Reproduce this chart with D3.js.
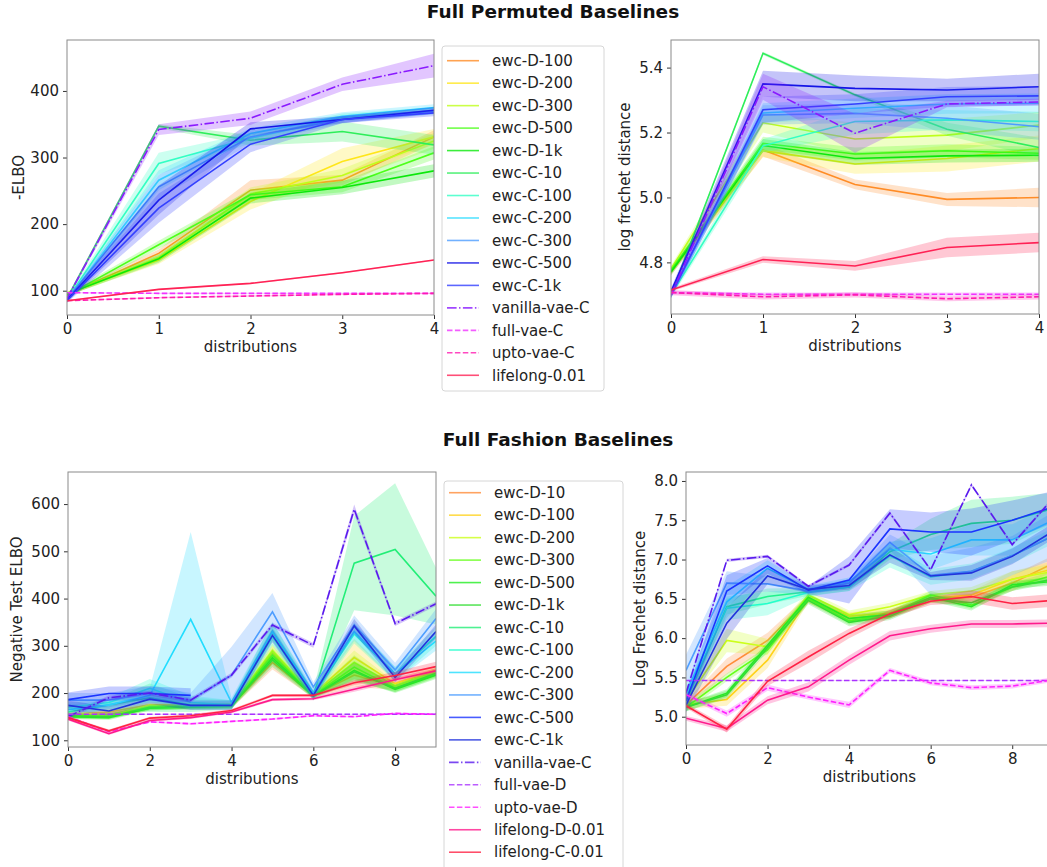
<!DOCTYPE html>
<html><head><meta charset="utf-8">
<script src="https://cdn.jsdelivr.net/npm/d3@7"></script>
<style>
html,body{margin:0;padding:0;background:#fff;}
svg{display:block;font-family:"DejaVu Sans",sans-serif;}
</style></head>
<body>
<svg id="chart" width="1047" height="867"></svg>
<script>
// ---------------- DATA ----------------
const permX = [0, 1, 2, 3, 4];
const permSeries = ["ewc-D-100","ewc-D-200","ewc-D-300","ewc-D-500","ewc-D-1k","ewc-C-10","ewc-C-100","ewc-C-200","ewc-C-300","ewc-C-500","ewc-C-1k","vanilla-vae-C","full-vae-C","upto-vae-C","lifelong-0.01"];
const permColors = ["#ff8c26","#ffe61a","#bfff1a","#4dff1a","#0be80b","#2eee5a","#33ffc4","#2edcff","#4d9dff","#1414e6","#3340ff","#8a1aff","#f033ff","#ff1ab0","#ff2255"];
const permStyles = ["solid","solid","solid","solid","solid","solid","solid","solid","solid","solid","solid","dashdot","dashed","dashed","solid"];

const permElbo = [
  [94,156,251,266,331],
  [96,146,234,294,331],
  [95,150,245,273,325],
  [93,169,244,256,307],
  [95,148,239,255,280],
  [88,347,326,339,319],
  [87,291,329,360,370],
  [86,266,336,362,375],
  [87,256,331,357,370],
  [86,236,343,357,371],
  [85,224,320,357,367],
  [88,342,359,410,438],
  [97,96,96,96,96],
  [85,89.5,92,94.5,96],
  [85,102,111,127,146]
];
const permElboSd = [
  [3,6,15,8,10],[3,6,12,20,12],[3,6,10,10,12],[3,6,8,8,10],[3,6,8,10,10],
  [3,3,8,15,15],[3,16,8,6,5],[3,15,8,6,5],[3,18,10,6,5],[3,22,10,5,5],[3,22,12,5,5],
  [3,8,10,10,18],[1,1,1,1,1],[1,1,1,1,1],[1,1,1,1,1]
];
const permFid = [
  [4.77,5.146,5.04,4.994,5.0],
  [4.775,5.144,5.103,5.12,5.151],
  [4.78,5.23,5.18,5.192,5.223],
  [4.775,5.167,5.134,5.144,5.136],
  [4.77,5.16,5.12,5.128,5.13],
  [4.70,5.444,5.316,5.21,5.154],
  [4.70,5.159,5.234,5.239,5.234],
  [4.70,5.26,5.275,5.288,5.29],
  [4.70,5.254,5.259,5.244,5.218],
  [4.71,5.35,5.336,5.331,5.341],
  [4.70,5.27,5.288,5.31,5.313],
  [4.70,5.341,5.198,5.288,5.294],
  [4.707,4.702,4.702,4.702,4.702],
  [4.707,4.694,4.70,4.688,4.694],
  [4.715,4.809,4.789,4.846,4.861]
];
const permFidSd = [
  [0.01,0.02,0.015,0.02,0.03],[0.01,0.02,0.03,0.04,0.04],[0.01,0.03,0.05,0.05,0.04],
  [0.01,0.02,0.02,0.02,0.02],[0.01,0.02,0.02,0.02,0.02],[0.005,0.005,0.005,0.02,0.03],
  [0.01,0.02,0.04,0.03,0.03],[0.01,0.03,0.03,0.03,0.03],[0.01,0.03,0.03,0.04,0.04],
  [0.01,0.04,0.04,0.035,0.04],[0.01,0.04,0.03,0.03,0.03],[0.01,0.04,0.06,0.01,0.01],
  [0.005,0.005,0.005,0.005,0.005],[0.008,0.008,0.008,0.008,0.008],[0.005,0.01,0.015,0.03,0.03]
];

const fashX = [0,1,2,3,4,5,6,7,8,9];
const fashSeries = ["ewc-D-10","ewc-D-100","ewc-D-200","ewc-D-300","ewc-D-500","ewc-D-1k","ewc-C-10","ewc-C-100","ewc-C-200","ewc-C-300","ewc-C-500","ewc-C-1k","vanilla-vae-C","full-vae-D","upto-vae-D","lifelong-D-0.01","lifelong-C-0.01"];
const fashColors = ["#ff8c3a","#ffd21a","#ccff1a","#66ff1a","#22ee22","#33dd33","#22ee77","#22ffcc","#22ddff","#4d9dff","#1a33ff","#2233dd","#5a1aee","#aa33ff","#ff22ff","#ff1a8c","#ff2244"];
const fashStyles = ["solid","solid","solid","solid","solid","solid","solid","solid","solid","solid","solid","solid","dashdot","dashed","dashed","solid","solid"];

const fashElbo = [
  [155,155,170,172,173,265,195,238,215,245],
  [155,160,175,175,175,285,198,275,220,248],
  [152,155,172,174,174,290,197,265,215,245],
  [150,150,168,172,174,280,195,255,210,240],
  [150,148,168,170,172,275,194,248,208,238],
  [152,150,170,171,173,270,193,245,210,242],
  [160,175,190,175,175,330,195,475,504,405],
  [170,180,210,180,175,320,195,325,240,320],
  [165,175,195,356,180,330,200,330,240,310],
  [185,185,200,185,238,372,213,344,249,358],
  [186,199,199,195,null,null,null,null,null,null],
  [174,162,187,174,174,322,195,342,233,330],
  [150,190,200,185,238,344,301,589,347,389],
  [155,155,155,155,155,155,155,155,155,155],
  [150,118,139,135,140,145,152,150,157,155],
  [145,114,142,148,160,186,188,208,228,247],
  [148,120,147,152,163,195,195,222,237,256]
];
const fashElboSd = [
  [5,5,5,5,5,15,5,25,8,8],[5,5,5,5,5,15,5,40,10,10],[5,5,5,5,5,15,5,25,8,8],
  [5,5,5,5,5,15,5,25,8,8],[5,5,5,5,5,15,5,20,8,8],[5,5,5,5,5,15,5,20,8,8],
  [10,10,30,15,10,20,10,100,140,60],[10,10,20,15,10,20,10,20,15,20],[10,10,15,185,10,20,10,20,15,20],
  [15,15,15,15,60,40,10,20,15,20],[15,15,15,15,null,null,null,null,null,null],[10,10,10,10,10,15,10,15,10,15],
  [5,5,5,5,5,5,5,10,5,5],[1,1,1,1,1,1,1,1,1,1],[2,2,2,2,2,2,2,2,2,2],
  [3,3,3,3,3,3,3,5,5,5],[3,3,3,3,3,3,3,5,8,10]
];
const fashFid = [
  [5.15,5.64,5.97,6.50,6.25,6.30,6.50,6.52,6.70,6.95],
  [5.15,5.22,5.72,6.50,6.28,6.32,6.50,6.55,6.75,6.88],
  [5.20,5.97,5.89,6.55,6.30,6.40,6.55,6.60,6.75,6.85],
  [5.12,5.50,5.85,6.50,6.22,6.30,6.55,6.42,6.65,6.80],
  [5.12,5.30,5.91,6.52,6.25,6.30,6.52,6.40,6.68,6.72],
  [5.12,5.28,5.88,6.48,6.20,6.28,6.50,6.45,6.65,6.75],
  [5.20,6.40,6.53,6.59,6.65,7.10,7.32,7.46,7.50,7.65],
  [5.25,6.38,6.44,6.58,6.65,7.05,6.78,6.85,7.05,7.30],
  [5.30,6.46,6.89,6.62,6.72,7.13,7.07,7.25,7.25,7.50],
  [5.59,6.70,6.69,6.60,6.70,7.22,6.80,6.85,7.05,7.30],
  [5.20,6.60,6.92,6.61,6.74,7.39,7.35,7.35,7.50,7.67],
  [5.15,6.19,6.79,6.62,6.67,7.06,6.79,6.83,7.04,7.36],
  [5.30,6.99,7.04,6.66,6.93,7.59,6.87,7.95,7.19,7.78],
  [5.46,5.46,5.46,5.46,5.46,5.46,5.46,5.46,5.46,5.46],
  [5.28,5.04,5.37,5.25,5.15,5.59,5.43,5.37,5.39,5.47],
  [4.98,4.85,5.21,5.38,5.72,6.03,6.12,6.18,6.18,6.19],
  [5.14,4.84,5.45,5.76,6.06,6.31,6.47,6.53,6.44,6.48]
];
const fashFidSd = [
  [0.05,0.1,0.1,0.05,0.05,0.05,0.05,0.05,0.1,0.1],[0.05,0.08,0.1,0.05,0.05,0.05,0.05,0.05,0.1,0.1],
  [0.05,0.15,0.1,0.05,0.05,0.05,0.05,0.05,0.1,0.1],[0.05,0.05,0.05,0.05,0.05,0.05,0.05,0.05,0.05,0.05],
  [0.05,0.05,0.05,0.05,0.05,0.05,0.05,0.05,0.05,0.05],[0.05,0.05,0.05,0.05,0.05,0.05,0.05,0.05,0.05,0.05],
  [0.1,0.1,0.1,0.05,0.05,0.1,0.2,0.3,0.3,0.2],[0.1,0.15,0.15,0.05,0.05,0.15,0.1,0.1,0.1,0.1],
  [0.1,0.2,0.1,0.05,0.05,0.1,0.2,0.2,0.2,0.2],[0.2,0.15,0.1,0.05,0.05,0.1,0.25,0.3,0.25,0.3],
  [0.1,0.2,0.1,0.05,0.3,0.25,0.25,0.3,0.25,0.2],[0.1,0.2,0.1,0.05,0.05,0.1,0.05,0.1,0.1,0.1],
  [0.02,0.02,0.02,0.02,0.02,0.02,0.02,0.02,0.02,0.02],[0.005,0.005,0.005,0.005,0.005,0.005,0.005,0.005,0.005,0.005],
  [0.03,0.04,0.04,0.03,0.04,0.03,0.03,0.03,0.03,0.03],[0.03,0.04,0.05,0.06,0.06,0.06,0.05,0.05,0.05,0.05],
  [0.03,0.04,0.06,0.08,0.06,0.05,0.05,0.08,0.08,0.08]
];

const permYTicks = [100,200,300,400];
const permFidTicks = [4.8,5.0,5.2,5.4];
const fashYTicks = [100,200,300,400,500,600];
const fashFidTicks = [5.0,5.5,6.0,6.5,7.0,7.5,8.0];
const permXTicks = [0,1,2,3,4];
const fashXTicks = [0,2,4,6,8];

// ---------------- DRAWING ----------------
const svg = d3.select("#chart");
const FONT = 15;
const dashFor = s => s === "dashed" ? "5.5,2.4" : (s === "dashdot" ? "9.6,2.4,1.5,2.4" : null);
let clipId = 0;

function panel(o) {
  const x = d3.scaleLinear().domain(o.xDomain).range([o.left, o.right]);
  const y = d3.scaleLinear().domain(o.yDomain).range([o.bottom, o.top]);
  const id = "clip" + (clipId++);
  svg.append("clipPath").attr("id", id).append("rect")
    .attr("x", o.left).attr("y", o.top).attr("width", o.right - o.left).attr("height", o.bottom - o.top);
  const g = svg.append("g").attr("clip-path", `url(#${id})`);
  o.means.forEach((m, i) => {
    const pts = o.xs.map((xv, j) => ({x: xv, m: m[j], s: o.sds[i][j]}));
    const def = d => d.m !== null && d.m !== undefined;
    const area = d3.area().defined(def).x(d => x(d.x)).y0(d => y(d.m - d.s)).y1(d => y(d.m + d.s));
    g.append("path").attr("d", area(pts)).attr("fill", o.colors[i]).attr("fill-opacity", 0.25).attr("stroke", "none");
    const line = d3.line().defined(def).x(d => x(d.x)).y(d => y(d.m));
    g.append("path").attr("d", line(pts)).attr("fill", "none").attr("stroke", o.colors[i])
      .attr("stroke-width", 1.6).attr("stroke-dasharray", dashFor(o.styles[i]));
  });
  // axes
  const xa = svg.append("g").attr("transform", `translate(0,${o.bottom})`)
    .call(d3.axisBottom(x).tickValues(o.xTicks).tickFormat(d3.format("d")).tickSizeOuter(0).tickSize(4).tickPadding(4));
  const ya = svg.append("g").attr("transform", `translate(${o.left},0)`)
    .call(d3.axisLeft(y).tickValues(o.yTicks).tickFormat(o.yFmt).tickSizeOuter(0).tickSize(4).tickPadding(4));
  [xa, ya].forEach(a => {
    a.select(".domain").remove();
    a.selectAll("line").attr("stroke", "#333");
    a.selectAll("text").attr("font-size", FONT).attr("fill", "#222").attr("font-family", "DejaVu Sans");
  });
  svg.append("rect").attr("x", o.left).attr("y", o.top).attr("width", o.right - o.left).attr("height", o.bottom - o.top)
    .attr("fill", "none").attr("stroke", "#8a8a8a").attr("stroke-width", 1);
  svg.append("text").attr("x", (o.left + Math.min(o.right, 1047 + (o.right - 1047))) / 2).attr("y", o.bottom + 37)
    .attr("text-anchor", "middle").attr("font-size", FONT).attr("fill", "#222").text("distributions");
  svg.append("text").attr("transform", `translate(${o.ylabelX},${(o.top + o.bottom) / 2}) rotate(-90)`)
    .attr("text-anchor", "middle").attr("font-size", FONT).attr("fill", "#222").text(o.ylabel);
}

function legend(x0, y0, w, h, firstY, names, colors, styles) {
  svg.append("rect").attr("x", x0).attr("y", y0).attr("width", w).attr("height", h).attr("rx", 3)
    .attr("fill", "#fff").attr("stroke", "#d6d6d6").attr("stroke-width", 1);
  names.forEach((n, i) => {
    const yy = firstY + i * 22.47;
    svg.append("line").attr("x1", x0 + 5).attr("x2", x0 + 37).attr("y1", yy).attr("y2", yy)
      .attr("stroke", colors[i]).attr("stroke-width", 1.6).attr("stroke-opacity", 0.8)
      .attr("stroke-dasharray", dashFor(styles[i]));
    svg.append("text").attr("x", x0 + 50).attr("y", yy).attr("dy", "0.35em")
      .attr("font-size", FONT).attr("fill", "#222").text(n);
  });
}

// titles
svg.append("text").attr("x", 553).attr("y", 18).attr("text-anchor", "middle").attr("font-size", 18.5)
  .attr("font-weight", "bold").attr("fill", "#111").text("Full Permuted Baselines");
svg.append("text").attr("x", 558).attr("y", 446).attr("text-anchor", "middle").attr("font-size", 18.5)
  .attr("font-weight", "bold").attr("fill", "#111").text("Full Fashion Baselines");

const fmt1 = d3.format(".1f");
panel({left: 67, right: 434, top: 40, bottom: 315, xDomain: [0, 4], yDomain: [63.5, 476.5],
  xs: permX, means: permElbo, sds: permElboSd, colors: permColors, styles: permStyles,
  xTicks: permXTicks, yTicks: permYTicks, yFmt: d3.format("d"), ylabel: "-ELBO", ylabelX: 24});
panel({left: 671, right: 1039, top: 40, bottom: 314, xDomain: [0, 4], yDomain: [4.641, 5.485],
  xs: permX, means: permFid, sds: permFidSd, colors: permColors, styles: permStyles,
  xTicks: permXTicks, yTicks: permFidTicks, yFmt: fmt1, ylabel: "log frechet distance", ylabelX: 630});
panel({left: 68, right: 436, top: 472, bottom: 747, xDomain: [0, 9], yDomain: [85.8, 667.9],
  xs: fashX, means: fashElbo, sds: fashElboSd, colors: fashColors, styles: fashStyles,
  xTicks: fashXTicks, yTicks: fashYTicks, yFmt: d3.format("d"), ylabel: "Negative Test ELBO", ylabelX: 22});
panel({left: 686, right: 1053, top: 472, bottom: 745, xDomain: [0, 9], yDomain: [4.64, 8.114],
  xs: fashX, means: fashFid, sds: fashFidSd, colors: fashColors, styles: fashStyles,
  xTicks: fashXTicks, yTicks: fashFidTicks, yFmt: fmt1, ylabel: "Log Frechet distance", ylabelX: 645});

legend(442, 46, 162, 345, 60.7, permSeries, permColors, permStyles);
legend(444, 481, 179, 400, 492.7, fashSeries, fashColors, fashStyles);
</script>
</body></html>
